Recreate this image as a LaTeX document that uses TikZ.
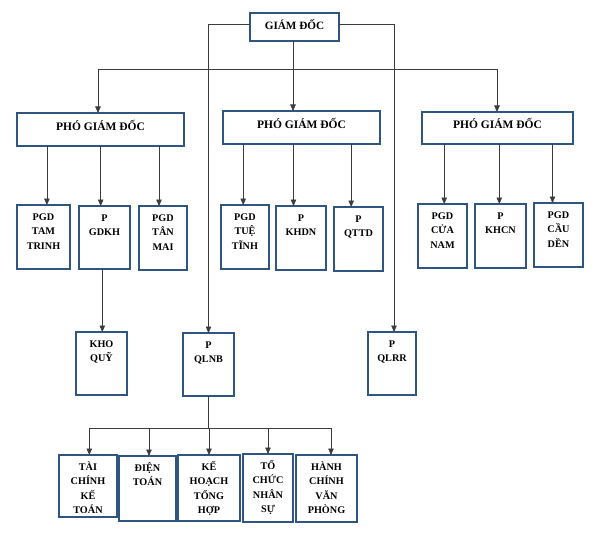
\documentclass[tikz,border=0pt]{standalone}
\usepackage{fontspec}
\setmainfont{Liberation Serif}
\usetikzlibrary{arrows.meta}
\definecolor{boxblue}{RGB}{47,86,130}
\definecolor{lin}{RGB}{60,60,60}
\newcommand\bx[5]{\node[box, anchor=north west, minimum width={(#4-#2)*1pt}, minimum height={(#5-#3)*1pt}] (#1) at (#2,#3) {};}
\newcommand\tx[2]{\node[txt, anchor=north] at ([yshift=-6pt]#1.north) {\rule{0pt}{9pt}#2};}
\begin{document}
\begin{tikzpicture}[x=1pt,y=-1pt,
  box/.style={draw=boxblue, line width=1.7pt, inner sep=0pt, outer sep=0pt, fill=white},
  txt/.style={font=\bfseries\fontsize{10.2}{14.5}\selectfont, align=center, inner sep=0pt},
  big/.style={font=\bfseries\fontsize{11.5}{13}\selectfont, inner sep=0pt, anchor=base},
  con/.style={draw=lin, line width=0.65pt},
  arr/.style={con, -{Triangle[length=6.5pt,width=5.5pt]}}]
\useasboundingbox[fill=white] (0,0) rectangle (595,535);

% boxes
\bx{gd}{250}{13}{339}{41}
\bx{p1}{17}{113}{184}{146}
\bx{p2}{223}{111}{380}{144}
\bx{p3}{422}{112}{573}{144}
\bx{tt}{17}{205}{70}{269}
\bx{gdkh}{79}{206}{130}{269}
\bx{tm}{139}{206}{187}{270}
\bx{tue}{221}{205}{269}{269}
\bx{khdn}{276}{206}{326}{270}
\bx{qttd}{334}{207}{383}{271}
\bx{cn}{418}{204}{467}{268}
\bx{khcn}{475}{204}{526}{268}
\bx{cd}{534}{203}{583}{267}
\bx{kho}{76}{332}{127}{395}
\bx{qlnb}{183}{333}{234}{396}
\bx{qlrr}{368}{332}{416}{395}
\bx{tckt}{59}{455}{117}{517}
\bx{dt}{119}{456}{176}{521}
\bx{khth}{178}{455}{240}{521}
\bx{tcns}{243}{454}{293}{522}
\bx{hcvp}{296}{455}{357}{522}

% texts
\node[big, font=\bfseries\fontsize{11.2}{13}\selectfont] at ([yshift=-17pt]gd.north) {GIÁM ĐỐC};
\node[big] at ([yshift=-17.5pt]p1.north) {PHÓ GIÁM ĐỐC};
\node[big] at ([yshift=-17.5pt]p2.north) {PHÓ GIÁM ĐỐC};
\node[big] at ([yshift=-16.5pt]p3.north) {PHÓ GIÁM ĐỐC};
\tx{tt}{PGD\\TAM\\TRINH}
\tx{gdkh}{P\\GDKH}
\tx{tm}{PGD\\TÂN\\MAI}
\tx{tue}{PGD\\TUỆ\\TĨNH}
\tx{khdn}{P\\KHDN}
\tx{qttd}{P\\QTTD}
\tx{cn}{PGD\\CỬA\\NAM}
\tx{khcn}{P\\KHCN}
\tx{cd}{PGD\\CẦU\\DỀN}
\tx{kho}{KHO\\QUỸ}
\tx{qlnb}{P\\QLNB}
\tx{qlrr}{P\\QLRR}
\tx{tckt}{TÀI\\CHÍNH\\KẾ\\TOÁN}
\tx{dt}{ĐIỆN\\TOÁN}
\tx{khth}{KẾ\\HOẠCH\\TỔNG\\HỢP}
\tx{tcns}{TỔ\\CHỨC\\NHÂN\\SỰ}
\tx{hcvp}{HÀNH\\CHÍNH\\VĂN\\PHÒNG}

% top connectors
\coordinate (b1) at (98,69);
\coordinate (b3) at (497,69);
\draw[con] (b1) -- (b3);
\draw[arr] ([xshift=-1.5pt]gd.south) -- ([xshift=-1.5pt]gd.south |- p2.north);
\draw[arr] (b1) -- (b1 |- p1.north);
\draw[arr] (b3) -- (b3 |- p3.north);
\draw[arr] ([yshift=3pt]gd.west) -| (qlnb.north);
\draw[arr] ([yshift=3pt]gd.east) -| ([xshift=2pt]qlrr.north);

% second level
\draw[arr] ([xshift=3.4pt]tt.north |- p1.south) -- ([xshift=3.4pt]tt.north);
\draw[arr] ([xshift=-3.8pt]gdkh.north |- p1.south) -- ([xshift=-3.8pt]gdkh.north);
\draw[arr] ([xshift=-4pt]tm.north |- p1.south) -- ([xshift=-4pt]tm.north);
\draw[arr] ([xshift=-1.8pt]tue.north |- p2.south) -- ([xshift=-1.8pt]tue.north);
\draw[arr] ([xshift=-7.5pt]khdn.north |- p2.south) -- ([xshift=-7.5pt]khdn.north);
\draw[arr] ([xshift=-7.3pt]qttd.north |- p2.south) -- ([xshift=-7.3pt]qttd.north);
\draw[arr] ([xshift=1.7pt]cn.north |- p3.south) -- ([xshift=1.7pt]cn.north);
\draw[arr] ([xshift=-1.2pt]khcn.north |- p3.south) -- ([xshift=-1.2pt]khcn.north);
\draw[arr] ([xshift=-6pt]cd.north |- p3.south) -- ([xshift=-6pt]cd.north);
\draw[arr] ([xshift=0.8pt]kho.north |- gdkh.south) -- ([xshift=0.8pt]kho.north);

% bottom bus
\coordinate (q1) at (89.3,428);
\coordinate (q5) at (331,428);
\draw[con] (qlnb.south) -- (qlnb.south |- q1);
\draw[con] (q1) -- (q5);
\draw[arr] (q1) -- (q1 |- tckt.north);
\draw[arr] ([xshift=1.5pt]dt.north |- q1) -- ([xshift=1.5pt]dt.north);
\draw[arr] (khth.north |- q1) -- (khth.north);
\draw[arr] (tcns.north |- q1) -- (tcns.north);
\draw[arr] (q5) -- (q5 |- hcvp.north);
\end{tikzpicture}
\end{document}
